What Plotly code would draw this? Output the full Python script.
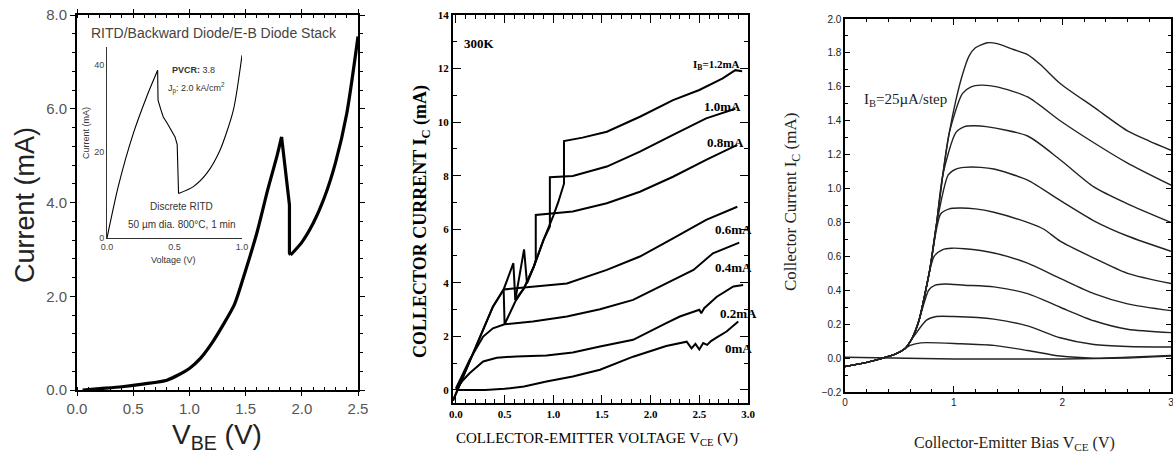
import plotly.graph_objects as go

# page is 1173x455; the html body margin is removed after plotting (post_script)
PAGE_W, PAGE_H, OFF = 1173, 455, 0
FW, FH = PAGE_W - OFF, PAGE_H - OFF

# ---------------- Panel A: RITD/Backward diode/E-B diode stack ----------------
a_rise_v = [0.05, 0.2, 0.4, 0.6, 0.8, 0.9, 1.0, 1.1, 1.2, 1.3, 1.4, 1.5, 1.6, 1.7, 1.78, 1.82]
a_rise_i = [0.0, 0.03, 0.07, 0.13, 0.21, 0.32, 0.46, 0.68, 1.0, 1.39, 1.82, 2.55, 3.35, 4.3, 5.0, 5.4]
a_drop_v = [1.82, 1.89, 1.89, 1.90]
a_drop_i = [5.4, 3.95, 2.92, 2.88]
a_rise2_v = [1.90, 2.0, 2.1, 2.2, 2.3, 2.4, 2.5]
a_rise2_i = [2.88, 3.15, 3.55, 4.1, 4.85, 5.9, 7.54]
# inset: discrete RITD
in_rise_v = [0.0, 0.084, 0.195, 0.294, 0.375]
in_rise_i = [0.0, 12.0, 24.2, 32.7, 38.8]
in_mid_v = [0.375, 0.378, 0.40, 0.417, 0.445, 0.467, 0.504, 0.52, 0.525, 0.53]
in_mid_i = [38.8, 31.9, 29.6, 28.0, 26.6, 25.4, 23.4, 21.6, 10.3, 10.3]
in_rise2_v = [0.53, 0.64, 0.74, 0.837, 0.936, 1.0]
in_rise2_i = [10.3, 11.9, 15.0, 20.3, 29.6, 42.3]

# ---------------- Panel B: collector current vs V_CE, 300K ----------------
b00_v = [0.0, 0.3, 0.5, 0.7, 0.93, 1.2, 1.48, 1.82, 2.16, 2.37, 2.42, 2.46, 2.5, 2.54, 2.58, 2.62, 2.68, 2.78, 2.9]
b00_i = [0.0, 0.0, 0.04, 0.13, 0.31, 0.5, 0.75, 1.24, 1.64, 1.8, 1.55, 1.72, 1.51, 1.75, 1.68, 1.82, 1.96, 2.18, 2.55]
b02_v = [0.0, 0.07, 0.14, 0.28, 0.42, 0.62, 0.93, 1.2, 1.48, 1.82, 2.16, 2.3, 2.5, 2.52, 2.55, 2.68, 2.85, 2.95]
b02_i = [0.0, 0.35, 0.62, 1.06, 1.2, 1.25, 1.28, 1.4, 1.62, 1.87, 2.49, 2.74, 2.99, 2.86, 3.05, 3.48, 3.86, 3.92]
b04_v = [0.0, 0.14, 0.28, 0.38, 0.5, 0.79, 1.14, 1.48, 1.82, 2.16, 2.44, 2.64, 2.91]
b04_i = [0.05, 1.12, 1.99, 2.3, 2.45, 2.55, 2.74, 3.01, 3.36, 3.98, 4.48, 5.1, 5.5]
b06_v = [-0.03, 0.144, 0.28, 0.38, 0.49, 0.79, 1.14, 1.55, 1.89, 2.23, 2.57, 2.89]
b06_i = [-0.4, 1.12, 2.24, 3.11, 3.75, 3.84, 3.97, 4.48, 4.98, 5.66, 6.35, 6.84]
b08_v = [-0.03, 0.144, 0.28, 0.38, 0.49, 0.59, 0.61, 0.70, 0.80, 0.82, 0.82, 1.2, 1.55, 1.89, 2.23, 2.57, 2.89]
b08_i = [-0.4, 1.12, 2.24, 3.11, 3.75, 4.73, 3.36, 3.8, 4.6, 4.85, 6.53, 6.66, 6.97, 7.4, 7.96, 8.59, 9.15]
b10_v = [0.61, 0.70, 0.73, 0.80, 0.90, 0.965, 0.965, 1.2, 1.55, 1.89, 2.23, 2.57, 2.87]
b10_i = [3.36, 5.25, 3.98, 4.6, 5.6, 6.1, 7.94, 7.99, 8.34, 8.9, 9.52, 10.14, 10.5]
b12_v = [0.49, 0.50, 0.61, 0.70, 0.80, 0.90, 1.0, 1.05, 1.11, 1.11, 1.3, 1.55, 1.89, 2.23, 2.5, 2.74, 2.87, 2.94]
b12_i = [3.75, 2.45, 3.3, 3.8, 4.6, 5.6, 6.5, 7.0, 7.7, 9.29, 9.42, 9.64, 10.2, 10.82, 11.2, 11.63, 11.94, 11.9]
b_labels = ["0mA", "0.2mA", "0.4mA", "0.6mA", "0.8mA", "1.0mA", "I<sub>B</sub>=1.2mA"]

# ---------------- Panel C: collector current vs bias, 25 uA/step ----------------
edge_v = [0.0, 0.2, 0.35, 0.45, 0.55, 0.62, 0.68, 0.72, 0.78, 0.84, 0.90, 0.96, 1.02, 1.08, 1.14, 1.20]
edge_i = [-0.05, -0.025, 0.0, 0.02, 0.055, 0.12, 0.22, 0.33, 0.52, 0.78, 1.08, 1.33, 1.52, 1.67, 1.78, 1.83]
c_base_v = [0.0, 0.35, 1.0, 2.0, 2.6, 3.0]
c_base_i = [0.005, 0.0, -0.005, -0.005, 0.0, 0.012]
# number of shared edge points, then each curve's own points
c_split = [5, 5, 7, 8, 9, 10, 11, 12, 16]
c_tail_v = [
    [0.6, 0.7, 1.06, 1.37, 1.68, 1.98, 2.29, 2.6, 3.0],
    [0.63, 0.75, 0.84, 1.0, 1.37, 1.68, 1.98, 2.29, 2.6, 3.0],
    [0.77, 0.83, 0.92, 1.1, 1.37, 1.68, 1.98, 2.29, 2.6, 3.0],
    [0.82, 0.9, 0.98, 1.1, 1.37, 1.68, 1.98, 2.29, 2.6, 3.0],
    [0.88, 0.96, 1.05, 1.2, 1.37, 1.68, 1.83, 1.98, 2.29, 2.6, 3.0],
    [0.95, 1.02, 1.1, 1.25, 1.37, 1.68, 1.98, 2.29, 2.6, 3.0],
    [1.02, 1.1, 1.18, 1.3, 1.68, 1.98, 2.29, 2.6, 3.0],
    [1.08, 1.16, 1.25, 1.4, 1.68, 1.98, 2.29, 2.6, 3.0],
    [1.31, 1.40, 1.55, 1.68, 1.8, 1.98, 2.29, 2.6, 2.8, 3.0],
]
c_tail_i = [
    [0.075, 0.09, 0.085, 0.075, 0.045, 0.012, 0.0, 0.005, 0.016],
    [0.125, 0.224, 0.245, 0.245, 0.23, 0.19, 0.12, 0.08, 0.068, 0.065],
    [0.40, 0.43, 0.437, 0.43, 0.42, 0.38, 0.30, 0.22, 0.17, 0.15],
    [0.60, 0.64, 0.648, 0.645, 0.62, 0.56, 0.47, 0.38, 0.32, 0.28],
    [0.85, 0.88, 0.885, 0.88, 0.86, 0.80, 0.76, 0.69, 0.59, 0.50, 0.44],
    [1.08, 1.115, 1.125, 1.125, 1.115, 1.05, 0.93, 0.81, 0.72, 0.63],
    [1.33, 1.365, 1.37, 1.365, 1.31, 1.17, 1.01, 0.91, 0.80],
    [1.56, 1.60, 1.61, 1.60, 1.54, 1.40, 1.27, 1.15, 1.02],
    [1.86, 1.855, 1.82, 1.79, 1.73, 1.62, 1.48, 1.34, 1.28, 1.226],
]


def px(x):
    return (x - OFF) / FW


def py(y):
    return 1 - (y - OFF) / FH


fig = go.Figure()


def line(xs, ys, xa, ya, color="black", width=2.0, smooth=False):
    ln = dict(color=color, width=width)
    if smooth:
        ln.update(shape="spline", smoothing=0.7)
    fig.add_trace(go.Scatter(x=xs, y=ys, mode="lines", line=ln, xaxis=xa, yaxis=ya,
                             hoverinfo="skip"))


# Panel A
line(a_rise_v, a_rise_i, "x", "y", width=3.2, smooth=True)
line(a_drop_v, a_drop_i, "x", "y", width=3.2)
line(a_rise2_v, a_rise2_i, "x", "y", width=3.2, smooth=True)
line(in_rise_v, in_rise_i, "x4", "y4", width=1.1, smooth=True)
line(in_mid_v, in_mid_i, "x4", "y4", width=1.1)
line(in_rise2_v, in_rise2_i, "x4", "y4", width=1.1, smooth=True)

# Panel B
for vv, ii in [(b00_v, b00_i), (b02_v, b02_i), (b04_v, b04_i), (b06_v, b06_i),
               (b08_v, b08_i), (b10_v, b10_i), (b12_v, b12_i)]:
    line(vv, ii, "x2", "y2", width=2.0)

# Panel C
line(c_base_v, c_base_i, "x3", "y3", color="#222", width=1.4)
for n, tv, ti in zip(c_split, c_tail_v, c_tail_i):
    line(edge_v[:n] + tv, edge_i[:n] + ti, "x3", "y3", color="#222", width=1.4, smooth=True)

sans = "Liberation Sans, Arial, sans-serif"
serif = "Liberation Serif, Times New Roman, serif"

common = dict(showgrid=False, zeroline=False, showline=True, linecolor="black", automargin=False,
              ticklabeloverflow="allow")

fig.update_layout(
    template="none",
    width=FW, height=FH, margin=dict(l=0, r=0, t=0, b=0, pad=0),
    paper_bgcolor="white", plot_bgcolor="white", showlegend=False,
    xaxis=dict(common, domain=[px(77), px(358)], range=[0, 2.5], anchor="y", linewidth=2,
               mirror="ticks", ticks="outside", ticklen=4, tickcolor="black", dtick=0.5, tick0=0,
               tickformat=".1f", tickfont=dict(family=sans, size=15, color="#555"),
               minor=dict(ticks="inside", ticklen=3, dtick=0.1, tickcolor="black")),
    yaxis=dict(common, domain=[py(390), py(15)], range=[0, 8], anchor="x", linewidth=2,
               mirror="ticks", ticks="outside", ticklen=5, tickcolor="black", dtick=2, tick0=0,
               tickformat=".1f", tickfont=dict(family=sans, size=15, color="#555"),
               minor=dict(ticks="outside", ticklen=3, dtick=0.4, tickcolor="black")),
    xaxis4=dict(common, domain=[px(107), px(242)], range=[0, 1.0], anchor="y4", linewidth=1,
                linecolor="#333", ticks="", tickvals=[0, 0.5, 1.0], ticktext=["0.0", "0.5", "1.0"],
                tickfont=dict(family=sans, size=9, color="#444")),
    yaxis4=dict(common, domain=[py(238), py(47)], range=[0, 44.2], anchor="x4", linewidth=1,
                linecolor="#333", ticks="", tickvals=[0, 20, 40],
                tickfont=dict(family=sans, size=9, color="#444")),
    xaxis2=dict(common, domain=[px(453), px(748)], range=[-0.03, 3.0], anchor="y2", linewidth=2,
                mirror="allticks", ticks="inside", ticklen=8, tickcolor="black", dtick=0.5, tick0=0,
                tickformat=".1f", tickfont=dict(family=serif, size=11, color="black", weight="bold"),
                minor=dict(ticks="inside", ticklen=4, dtick=0.1, tickcolor="black")),
    yaxis2=dict(common, domain=[py(403), py(15)], range=[-0.49, 14], anchor="x2", linewidth=2,
                mirror="allticks", ticks="inside", ticklen=8, tickcolor="black", dtick=2, tick0=0,
                tickfont=dict(family=serif, size=11, color="black", weight="bold"),
                minor=dict(ticks="inside", ticklen=4, dtick=1, tickcolor="black")),
    xaxis3=dict(common, domain=[px(845), px(1171)], range=[0, 3], anchor="y3", linewidth=1.6,
                mirror="allticks", ticks="inside", ticklen=6, tickcolor="black", dtick=1, tick0=0,
                tickfont=dict(family=sans, size=10, color="#222"),
                minor=dict(ticks="inside", ticklen=3, dtick=0.2, tickcolor="black")),
    yaxis3=dict(common, domain=[py(392), py(19)], range=[-0.2, 2.0], anchor="x3", linewidth=1.6,
                mirror="allticks", ticks="inside", ticklen=5, tickcolor="black", dtick=0.2, tick0=0,
                tickformat=".1f", tickfont=dict(family=sans, size=10, color="#222"),
                minor=dict(ticks="inside", ticklen=3, dtick=0.1, tickcolor="black")),
)

ann = []


def note(text, x, y, size, family, color="black", angle=0, xanchor="center", **kw):
    ann.append(dict(text=text, x=px(x), y=py(y), xref="paper", yref="paper", showarrow=False,
                    xanchor=xanchor, yanchor="middle", textangle=angle,
                    font=dict(family=family, size=size, color=color, **kw)))


# Panel A texts
note("Current (mA)", 25, 205, 27, sans, "#222", angle=-90)
note("V<sub>BE</sub> (V)", 217, 436, 28, sans, "#222")
note("RITD/Backward Diode/E-B Diode Stack", 214, 33, 14, sans, "#444")
note("<b>PVCR:</b> 3.8", 170, 70, 9, sans, "#333", xanchor="left")
note("J<sub>p</sub>: 2.0 kA/cm<sup>2</sup>", 166, 88, 9, sans, "#333", xanchor="left")
note("Discrete RITD", 181, 207, 10, sans, "#333")
note("50 µm dia. 800°C, 1 min", 182, 224, 10, sans, "#333")
note("Current (mA)", 86, 133, 9, sans, "#333", angle=-90)
note("Voltage (V)", 173, 260, 9, sans, "#333")

# Panel B texts
note("COLLECTOR CURRENT I<sub>C</sub> (mA)", 421, 222, 18, serif, "black", angle=-90, weight="bold")
note("COLLECTOR-EMITTER VOLTAGE V<sub>CE</sub> (V)", 597, 439, 15, serif, "black")
note("300K", 462, 43, 13, serif, "black", xanchor="left", weight="bold")
b_lab_xy = [(723, 348), (718, 313), (713, 267), (713, 229), (705, 142), (702, 106), (691, 65)]
b_lab_size = [13, 13, 13, 13, 13, 13, 11]
for t, (lx, ly), sz in zip(b_labels, b_lab_xy, b_lab_size):
    note(t, lx, ly, sz, serif, "black", xanchor="left", weight="bold")

# Panel C texts
note("Collector Current I<sub>C</sub> (mA)", 792, 202, 17, serif, "#222", angle=-90)
note("Collector-Emitter Bias V<sub>CE</sub> (V)", 1014, 443, 16, serif, "#222")
note("I<sub>B</sub>=25µA/step", 862, 100, 15, serif, "#222", xanchor="left")

fig.update_layout(annotations=ann)
fig.write_html("out.html", config={"displayModeBar": False, "staticPlot": True},
               post_script="document.body.style.margin='0';document.body.style.overflow='hidden';")
